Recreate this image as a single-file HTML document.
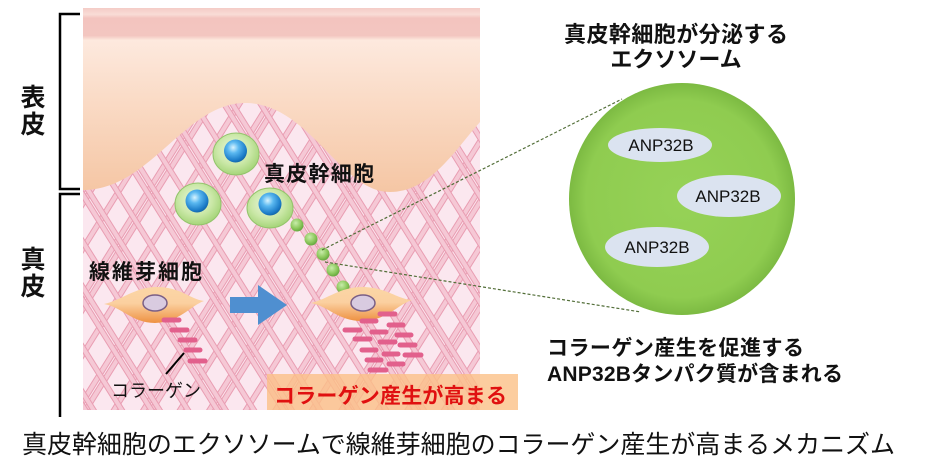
<!DOCTYPE html>
<html>
<head>
<meta charset="utf-8">
<style>
  html,body{margin:0;padding:0;background:#fff;}
  body{width:940px;height:475px;overflow:hidden;}
  svg{display:block;}
  text{font-family:"Liberation Sans","Noto Sans CJK JP",sans-serif;}
  .b{font-weight:bold;}
</style>
</head>
<body>
<svg width="940" height="475" viewBox="0 0 940 475" xmlns="http://www.w3.org/2000/svg">
  <defs>
    <clipPath id="panel"><rect x="83" y="8" width="397" height="402"/></clipPath>
    <g id="strip">
      <rect x="0" y="0" width="6" height="60" fill="#f5c8d5"/>
      <rect x="0" y="0" width="1" height="60" fill="#e99db2"/>
      <rect x="5" y="0" width="1" height="60" fill="#e99db2"/>
    </g>
    <pattern id="pa" width="56" height="60" patternUnits="userSpaceOnUse" patternTransform="rotate(32)">
      <use href="#strip" x="0"/>
      <use href="#strip" x="7"/>
      <use href="#strip" x="31"/>
    </pattern>
    <pattern id="pb" width="56" height="60" patternUnits="userSpaceOnUse" patternTransform="rotate(-32) translate(20,0)">
      <use href="#strip" x="0"/>
      <use href="#strip" x="7"/>
      <use href="#strip" x="31"/>
    </pattern>
    <linearGradient id="epi" x1="0" y1="8" x2="0" y2="192" gradientUnits="userSpaceOnUse">
      <stop offset="0" stop-color="#f4ccc7"/>
      <stop offset="0.035" stop-color="#f9dcd6"/>
      <stop offset="0.055" stop-color="#f3c4bf"/>
      <stop offset="0.15" stop-color="#f3c6c0"/>
      <stop offset="0.175" stop-color="#fde9de"/>
      <stop offset="0.5" stop-color="#fadbc6"/>
      <stop offset="1" stop-color="#f5c6a4"/>
    </linearGradient>
    <radialGradient id="cell" cx="0.45" cy="0.4" r="0.65">
      <stop offset="0" stop-color="#eef8e2"/>
      <stop offset="0.55" stop-color="#cbe8a8"/>
      <stop offset="0.9" stop-color="#a8d67c"/>
      <stop offset="1" stop-color="#8cc064"/>
    </radialGradient>
    <radialGradient id="nuc" cx="0.4" cy="0.35" r="0.7">
      <stop offset="0" stop-color="#d8f4ff"/>
      <stop offset="0.35" stop-color="#5ab8f0"/>
      <stop offset="0.8" stop-color="#1c7cc8"/>
      <stop offset="1" stop-color="#12609e"/>
    </radialGradient>
    <radialGradient id="ves" cx="0.4" cy="0.35" r="0.7">
      <stop offset="0" stop-color="#c8ecaa"/>
      <stop offset="0.6" stop-color="#8cc85c"/>
      <stop offset="1" stop-color="#5fa23a"/>
    </radialGradient>
    <linearGradient id="fib" x1="0" y1="0" x2="0" y2="1">
      <stop offset="0" stop-color="#fbd6a6"/>
      <stop offset="0.45" stop-color="#fbd0a0"/>
      <stop offset="1" stop-color="#ee9142"/>
    </linearGradient>
    <radialGradient id="big" cx="0.5" cy="0.5" r="0.5">
      <stop offset="0" stop-color="#96d257"/>
      <stop offset="0.85" stop-color="#8fcc50"/>
      <stop offset="1" stop-color="#7cba42"/>
    </radialGradient>
  </defs>

  <!-- illustration panel -->
  <g clip-path="url(#panel)">
    <rect x="83" y="8" width="397" height="402" fill="#fbe7ef"/>
    <rect x="83" y="8" width="397" height="402" fill="url(#pa)"/>
    <rect x="83" y="8" width="397" height="402" fill="url(#pb)"/>
    <path d="M83,8 H480 V122 C455,150 430,192 390,192 C340,192 310,103 245,103 C185,103 150,190 83,190 Z" fill="url(#epi)"/>
  </g>

  <!-- brackets -->
  <g stroke="#000" stroke-width="2.5" fill="none">
    <path d="M80,14 H60 V189 H80"/>
    <path d="M80,194 H60 V417"/>
  </g>

  <!-- side labels -->
  <g font-size="25" fill="#111" text-anchor="middle" class="b">
    <text x="33" y="106">表</text>
    <text x="33" y="133">皮</text>
    <text x="33" y="268">真</text>
    <text x="33" y="295">皮</text>
  </g>

  <!-- stem cells -->
  <ellipse cx="236" cy="154" rx="23" ry="21" fill="url(#cell)" stroke="#93c46c" stroke-width="1"/>
  <circle cx="235.5" cy="151" r="11.5" fill="url(#nuc)"/>
  <ellipse cx="198" cy="204" rx="23" ry="21" fill="url(#cell)" stroke="#93c46c" stroke-width="1"/>
  <circle cx="197" cy="201" r="11.5" fill="url(#nuc)"/>
  <ellipse cx="270" cy="208" rx="23" ry="20" fill="url(#cell)" stroke="#93c46c" stroke-width="1"/>
  <circle cx="270" cy="204" r="11.5" fill="url(#nuc)"/>

  <text x="264" y="181" font-size="21" fill="#111" class="b" textLength="110">真皮幹細胞</text>

  <!-- vesicles -->
  <circle cx="297" cy="225" r="6.5" fill="url(#ves)"/>
  <circle cx="311" cy="239" r="6.5" fill="url(#ves)"/>
  <circle cx="323" cy="254" r="6.5" fill="url(#ves)"/>
  <circle cx="333" cy="270" r="6.5" fill="url(#ves)"/>
  <circle cx="343" cy="287" r="6.5" fill="url(#ves)"/>

  <!-- fibroblast 1 -->
  <text x="89" y="279" font-size="21" fill="#111" class="b" textLength="113">線維芽細胞</text>
  <path d="M104,304 C122,300 135,287 157,287 C180,287 190,299 204,301 C190,306 180,322 155,323 C132,323 122,307 104,304 Z" fill="url(#fib)"/>
  <ellipse cx="155" cy="303" rx="12" ry="8" fill="#d9cbe0" stroke="#7a5f86" stroke-width="1.5"/>
  <g stroke="#e2608c" stroke-width="5" stroke-linecap="round">
    <line x1="164" y1="320" x2="179" y2="320"/>
    <line x1="172" y1="330" x2="187" y2="330"/>
    <line x1="180" y1="340" x2="195" y2="340"/>
    <line x1="186" y1="350" x2="200" y2="350"/>
    <line x1="190" y1="361" x2="205" y2="361"/>
  </g>
  <line x1="184" y1="353" x2="166" y2="374" stroke="#000" stroke-width="2"/>
  <text x="111" y="397" font-size="18" fill="#111" textLength="90">コラーゲン</text>

  <!-- blue arrow -->
  <polygon points="230,297 258,297 258,285 287,305 258,325 258,313 230,313" fill="#4f8fd0"/>

  <!-- fibroblast 2 -->
  <path d="M311,303 C328,299 340,287 362,287 C386,287 397,299 412,300 C397,305 388,320 362,321 C338,321 328,306 311,303 Z" fill="url(#fib)"/>
  <ellipse cx="363" cy="303" rx="12" ry="8" fill="#d9cbe0" stroke="#7a5f86" stroke-width="1.5"/>
  <g stroke="#e2608c" stroke-width="5" stroke-linecap="round">
    <line x1="380" y1="314" x2="395" y2="314"/>
    <line x1="362" y1="321" x2="376" y2="321"/>
    <line x1="389" y1="325" x2="403" y2="325"/>
    <line x1="345" y1="330" x2="360" y2="330"/>
    <line x1="372" y1="332" x2="386" y2="332"/>
    <line x1="397" y1="335" x2="411" y2="335"/>
    <line x1="355" y1="339" x2="370" y2="339"/>
    <line x1="380" y1="342" x2="395" y2="342"/>
    <line x1="400" y1="345" x2="415" y2="345"/>
    <line x1="362" y1="350" x2="376" y2="350"/>
    <line x1="384" y1="354" x2="398" y2="354"/>
    <line x1="405" y1="355" x2="421" y2="355"/>
    <line x1="367" y1="360" x2="381" y2="360"/>
    <line x1="389" y1="364" x2="403" y2="364"/>
    <line x1="370" y1="370" x2="386" y2="370"/>
  </g>

  <!-- orange label box -->
  <rect x="267" y="374" width="251" height="36" fill="#fbc187" opacity="0.8"/>
  <text x="274" y="403" font-size="21" fill="#e01010" class="b" textLength="233">コラーゲン産生が高まる</text>

  <!-- dashed connectors -->
  <g stroke="#526e38" stroke-width="1.2" stroke-dasharray="3,2" fill="none">
    <line x1="322" y1="250" x2="622" y2="99"/>
    <line x1="325" y1="262" x2="641" y2="312"/>
  </g>

  <!-- big exosome -->
  <ellipse cx="682" cy="199" rx="113" ry="116" fill="url(#big)"/>
  <ellipse cx="660" cy="145" rx="52" ry="17" fill="#dbe3f0"/>
  <ellipse cx="729" cy="196" rx="52" ry="21" fill="#dbe3f0"/>
  <ellipse cx="657" cy="247" rx="52" ry="20" fill="#dbe3f0"/>
  <g font-size="17" fill="#111" text-anchor="middle">
    <text x="661" y="151">ANP32B</text>
    <text x="728" y="202">ANP32B</text>
    <text x="657" y="253">ANP32B</text>
  </g>

  <!-- right titles -->
  <g font-size="22" fill="#111" text-anchor="middle" class="b">
    <text x="676" y="42" textLength="224">真皮幹細胞が分泌する</text>
    <text x="676" y="67">エクソソーム</text>
  </g>
  <text x="547" y="355" font-size="21" fill="#111" class="b" textLength="257">コラーゲン産生を促進する</text>
  <text x="547" y="381" font-size="21" fill="#111" class="b" textLength="296">ANP32Bタンパク質が含まれる</text>

  <!-- caption -->
  <text x="22" y="453" font-size="25" fill="#111" textLength="873">真皮幹細胞のエクソソームで線維芽細胞のコラーゲン産生が高まるメカニズム</text>
</svg>
</body>
</html>
